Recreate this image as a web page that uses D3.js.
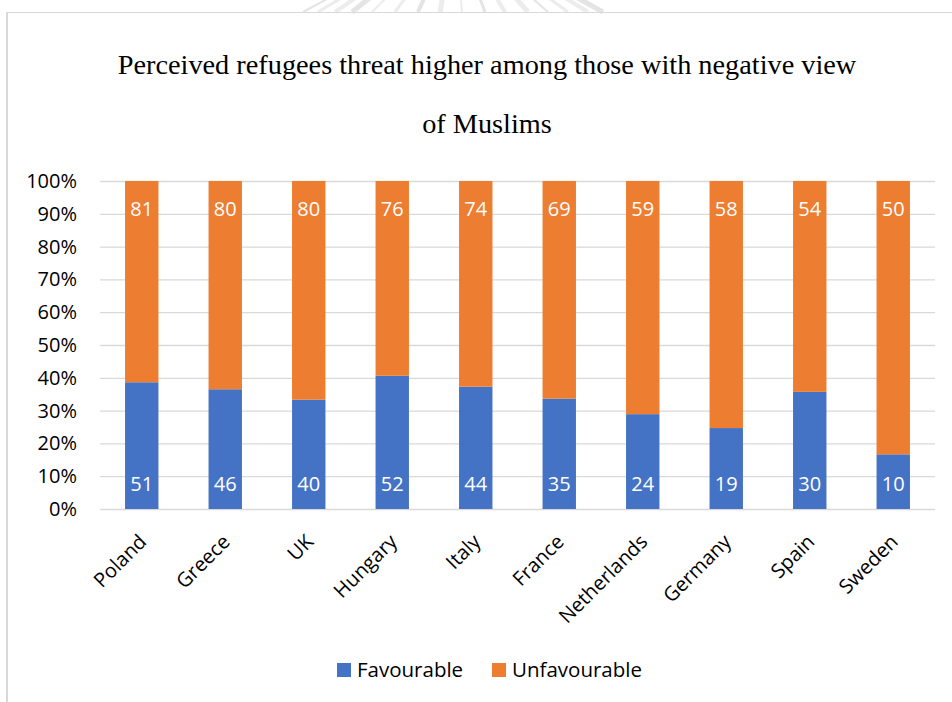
<!DOCTYPE html>
<html>
<head>
<meta charset="utf-8">
<script src="https://cdn.jsdelivr.net/npm/d3@7"></script>
<style>
  html, body { margin: 0; padding: 0; background: #fff; }
  svg { display: block; }
</style>
</head>
<body>
<svg id="chart" width="952" height="702"></svg>
<script>
// Survey results per country (counts as reported)
const countries = ["Poland", "Greece", "UK", "Hungary", "Italy", "France", "Netherlands", "Germany", "Spain", "Sweden"];
const favourable = [51, 46, 40, 52, 44, 35, 24, 19, 30, 10];
const unfavourable = [81, 80, 80, 76, 74, 69, 59, 58, 54, 50];
const seriesNames = ["Favourable", "Unfavourable"];
const seriesColors = ["#4472C4", "#ED7D31"];
const yTicks = [0, 0.1, 0.2, 0.3, 0.4, 0.5, 0.6, 0.7, 0.8, 0.9, 1.0];
const titleLines = ["Perceived refugees threat higher among those with negative view", "of Muslims"];

const svg = d3.select("#chart");
const W = 952, H = 702;
const plot = { left: 100, right: 935, top: 181, bottom: 509 };
const sansFont = "'Open Sans', Lato, sans-serif";

// faint emblem rays peeking above the frame
const rayEnds = [303, 318, 335, 352, 372, 395, 418, 440, 462, 485, 505, 528, 548, 568, 588, 603];
const rays = svg.append("g");
rayEnds.forEach((x, i) => {
  const cx = 455, cy = -70;
  rays.append("line")
    .attr("x1", cx + (x - cx) * 0.55).attr("y1", cy + (12 - cy) * 0.55)
    .attr("x2", x).attr("y2", 12)
    .attr("stroke", i % 3 === 0 ? "#e4e4e4" : "#ececec")
    .attr("stroke-width", 2 + (i % 4));
});

// chart frame
svg.append("line").attr("x1", 7).attr("x2", W).attr("y1", 12.5).attr("y2", 12.5)
  .attr("stroke", "#d9d9d9").attr("stroke-width", 1.2);
svg.append("line").attr("x1", 7).attr("x2", 7).attr("y1", 12).attr("y2", H)
  .attr("stroke", "#d9d9d9").attr("stroke-width", 2);

// title
svg.append("g").selectAll("text").data(titleLines).join("text")
  .attr("x", 487).attr("y", (d, i) => 74 + i * 59)
  .attr("text-anchor", "middle")
  .attr("font-family", "'Liberation Serif', 'Times New Roman', serif")
  .attr("font-size", 28.3)
  .attr("fill", "#000")
  .text(d => d);

// scales
const x = d3.scaleBand().domain(countries).range([plot.left, plot.right])
  .paddingInner(0.6).paddingOuter(0.3);
const y = d3.scaleLinear().domain([0, 1]).range([plot.bottom, plot.top]);

// gridlines + y labels
const yAxis = d3.axisLeft(y).tickValues(yTicks)
  .tickSize(-(plot.right - plot.left)).tickPadding(23)
  .tickFormat(d3.format(".0%"));
const gy = svg.append("g").attr("transform", `translate(${plot.left},0)`).call(yAxis);
gy.select(".domain").remove();
gy.selectAll(".tick line").attr("stroke", "#d9d9d9").attr("stroke-width", 1.3);
gy.selectAll(".tick text")
  .attr("font-family", sansFont).attr("font-size", 20).attr("fill", "#000");

// stacked 100% bars
const rows = countries.map((c, i) => ({ country: c, Favourable: favourable[i], Unfavourable: unfavourable[i] }));
const stack = d3.stack().keys(seriesNames).offset(d3.stackOffsetExpand);
const layers = stack(rows);

const layerG = svg.append("g").selectAll("g").data(layers).join("g")
  .attr("fill", (d, i) => seriesColors[i]);
layerG.selectAll("rect").data(d => d).join("rect")
  .attr("x", d => x(d.data.country))
  .attr("width", x.bandwidth())
  .attr("y", d => y(d[1]))
  .attr("height", d => y(d[0]) - y(d[1]));

// value labels: favourable near the base, unfavourable near the top
const labelG = svg.append("g")
  .attr("font-family", sansFont).attr("font-size", 20).attr("fill", "#fff")
  .attr("text-anchor", "middle");
layers.forEach((layer, li) => {
  labelG.selectAll(null).data(layer).join("text")
    .attr("x", d => x(d.data.country) + x.bandwidth() / 2)
    .attr("y", d => li === 0 ? y(d[0]) - 18 : y(d[1]) + 35)
    .text(d => d.data[layer.key]);
});

// category labels, rotated
svg.append("g").selectAll("text").data(countries).join("text")
  .attr("transform", d => `translate(${x(d) + x.bandwidth() / 2 + 6},${plot.bottom + 34}) rotate(-45)`)
  .attr("text-anchor", "end")
  .attr("font-family", sansFont).attr("font-size", 20).attr("fill", "#000")
  .text(d => d);

// legend
const legendItems = [
  { name: seriesNames[0], color: seriesColors[0], x: 337 },
  { name: seriesNames[1], color: seriesColors[1], x: 492 }
];
const lg = svg.append("g").selectAll("g").data(legendItems).join("g")
  .attr("transform", d => `translate(${d.x},663)`);
lg.append("rect").attr("width", 14).attr("height", 14).attr("fill", d => d.color);
lg.append("text").attr("x", 20).attr("y", 14)
  .attr("font-family", sansFont).attr("font-size", 20.5).attr("fill", "#000")
  .text(d => d.name);
</script>
</body>
</html>
